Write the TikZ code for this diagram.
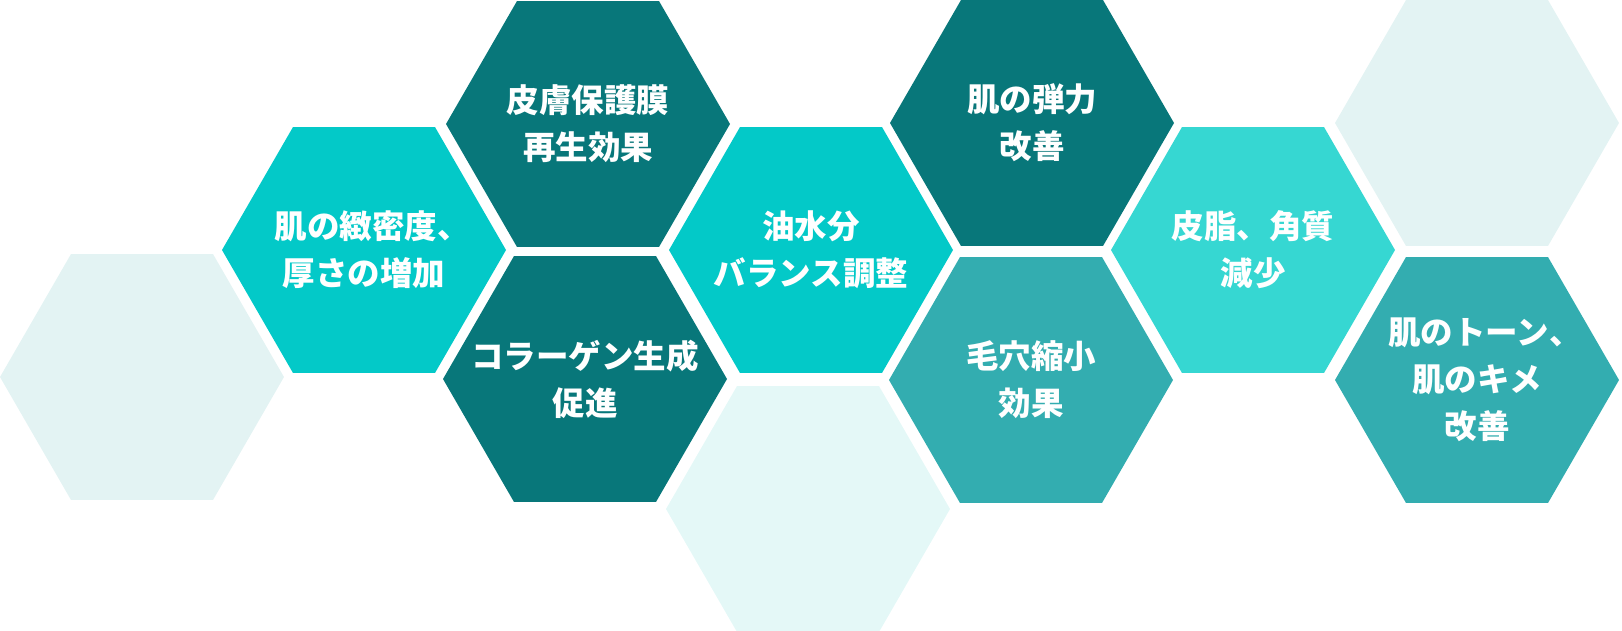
\documentclass[tikz,border=0pt]{standalone}
\usepackage{xcolor}
\usepackage{fontspec}
\usepackage{tikz}
\usetikzlibrary{shapes.geometric}
\newfontfamily\jpfont{Noto Sans CJK JP}
\definecolor{hex_dark}{RGB}{8, 119, 122}
\definecolor{hex_cyan}{RGB}{3, 201, 200}
\definecolor{hex_teal}{RGB}{51, 173, 176}
\definecolor{hex_aqua}{RGB}{54, 215, 210}
\definecolor{hex_pale}{RGB}{227, 243, 243}
\definecolor{hex_mint}{RGB}{228, 248, 247}
\newcommand{\halfcomma}{\makebox[0.5em][l]{、}}

\begin{document}
\begin{tikzpicture}[x=1pt, y=-1pt,
    hex/.style={regular polygon, regular polygon sides=6, minimum size=284pt,
      inner sep=0pt, outer sep=0pt},
    hexlabel/.style={text=white, align=center, inner sep=0pt,
      font=\jpfont\bfseries\fontsize{32.5}{47}\selectfont}]

    \useasboundingbox (0,0) rectangle (1622,630);
    \clip (0,0) rectangle (1622,630);

    % Empty hexagons
    \node[hex, fill=hex_pale] (blankleft) at (142,377) {};
    \node[hex, fill=hex_mint] (blankbottom) at (808,509) {};
    \node[hex, fill=hex_pale] (blankright) at (1477,123) {};

    % Column 1
    \node[hex, fill=hex_cyan] (density) at (364,250) {};
    \node[hexlabel] (density-text) at (density) {肌の緻密度\halfcomma\\厚さの増加};

    % Column 2
    \node[hex, fill=hex_dark] (barrier) at (588,124) {};
    \node[hexlabel] (barrier-text) at (barrier) {皮膚保護膜\\再生効果};
    \node[hex, fill=hex_dark] (collagen) at (585,379) {};
    \node[hexlabel] (collagen-text) at (collagen) {コラーゲン生成\\促進};

    % Column 3
    \node[hex, fill=hex_cyan] (balance) at (811,250) {};
    \node[hexlabel] (balance-text) at (balance) {油水分\\バランス調整};

    % Column 4
    \node[hex, fill=hex_dark] (elastic) at (1032,123) {};
    \node[hexlabel] (elastic-text) at (elastic) {肌の弾力\\改善};
    \node[hex, fill=hex_teal] (pores) at (1031,380) {};
    \node[hexlabel] (pores-text) at (pores) {毛穴縮小\\効果};

    % Column 5
    \node[hex, fill=hex_aqua] (sebum) at (1253,250) {};
    \node[hexlabel] (sebum-text) at (sebum) {皮脂、角質\\減少};

    % Column 6
    \node[hex, fill=hex_teal] (tone) at (1477,380) {};
    \node[hexlabel] (tone-text) at (tone) {肌のトーン\halfcomma\\肌のキメ\\改善};

  \end{tikzpicture}
\end{document}
